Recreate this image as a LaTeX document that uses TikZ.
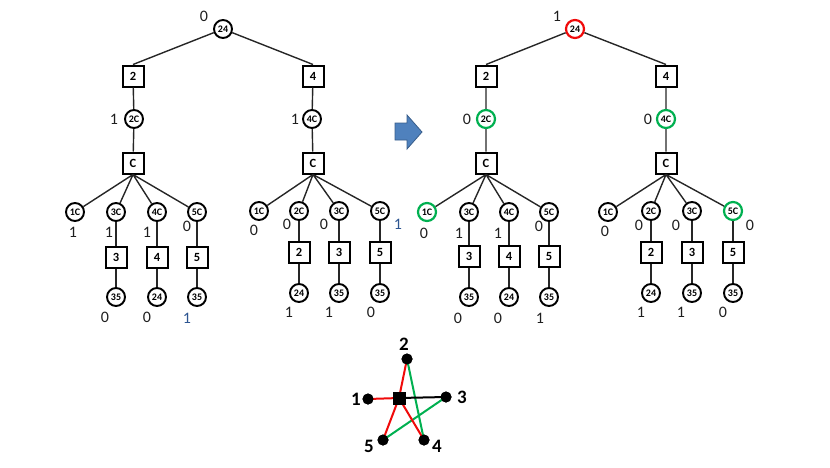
\documentclass[tikz,border=0pt]{standalone}
\usepackage{fontspec}
\setmainfont{Carlito}
\definecolor{gr}{RGB}{0,176,80}
\definecolor{rd}{RGB}{240,10,10}
\definecolor{bl}{RGB}{45,85,145}
\definecolor{txt}{RGB}{30,30,30}
\definecolor{arrf}{RGB}{79,129,189}
\definecolor{arrd}{RGB}{56,93,138}
\begin{document}
\begin{tikzpicture}[x=1pt,y=-1pt,
  cn/.style={circle,draw=black,line width=1.9pt,minimum size=18pt,inner sep=0pt,font=\bfseries\fontsize{10}{10}\selectfont},
  gc/.style={cn,draw=gr,line width=2.2pt},
  rc/.style={cn,draw=rd,line width=2.2pt},
  sq/.style={rectangle,draw=black,line width=2pt,minimum size=21pt,inner sep=0pt,font=\bfseries\fontsize{12.5}{13}\selectfont},
  lb/.style={inner sep=0pt,text=txt,font=\fontsize{16}{17}\selectfont},
  bb/.style={lb,text=bl},
  ed/.style={draw=black!85,line width=1.4pt},
  dot/.style={circle,fill=black,minimum size=11pt,inner sep=0pt},
  sl/.style={inner sep=0pt,font=\bfseries\fontsize{19}{20}\selectfont},
  se/.style={line width=2pt}]
\useasboundingbox (0,0) rectangle (830,467);

% ---------------- left tree ----------------
\node[cn] (r) at (223,29) {24};
\node[lb] (rl) at (204,16) {0};
\node[sq] (a2) at (133,76) {2};
\node[sq] (a4) at (313,76) {4};
\node[cn] (a2c) at (134,119) {2C};
\node[lb] at (114,119) {1};
\node[cn] (a4c) at (312,119) {4C};
\node[lb] at (295,119) {1};
\node[sq] (aC) at (133,163) {C};
\node[sq] (bC) at (313,163) {C};
\draw[ed] (r) -- (a2.north) (r) -- (a4.north) (a2) -- (a2c) -- (aC) (a4) -- (a4c) -- (bC);

\node[cn] (p1) at (75,212) {1C};
\node[cn] (p3) at (116,212) {3C};
\node[cn] (p4) at (157,212) {4C};
\node[cn] (p5) at (197,212) {5C};
\node[sq] (ps3) at (116,257) {3};
\node[sq] (ps4) at (157,257) {4};
\node[sq] (ps5) at (197,257) {5};
\node[cn] (pb3) at (116,297) {35};
\node[cn] (pb4) at (157,297) {24};
\node[cn] (pb5) at (197,297) {35};
\draw[ed] (aC.south) -- (p1) (aC.south) -- (p3) (aC.south) -- (p4) (aC.south) -- (p5);
\draw[ed] (p3) -- (ps3) -- (pb3) (p4) -- (ps4) -- (pb4) (p5) -- (ps5) -- (pb5);
\node[lb] at (73,232) {1};
\node[lb] at (109,232) {1};
\node[lb] at (147,232) {1};
\node[lb] at (187,226) {0};
\node[lb] at (105,317) {0};
\node[lb] at (147,317) {0};
\node[bb] at (187,318) {1};

\node[cn] (q1) at (259,211) {1C};
\node[cn] (q2) at (299,211) {2C};
\node[cn] (q3) at (339,211) {3C};
\node[cn] (q5) at (380,211) {5C};
\node[sq] (qs2) at (299,252) {2};
\node[sq] (qs3) at (339,252) {3};
\node[sq] (qs5) at (380,252) {5};
\node[cn] (qb2) at (299,293) {24};
\node[cn] (qb3) at (339,293) {35};
\node[cn] (qb5) at (380,293) {35};
\draw[ed] (bC.south) -- (q1) (bC.south) -- (q2) (bC.south) -- (q3) (bC.south) -- (q5);
\draw[ed] (q2) -- (qs2) -- (qb2) (q3) -- (qs3) -- (qb3) (q5) -- (qs5) -- (qb5);
\node[lb] at (254,230) {0};
\node[lb] at (287,224) {0};
\node[lb] at (324,224) {0};
\node[bb] at (398,224) {1};
\node[lb] at (289,312) {1};
\node[lb] at (329,312) {1};
\node[lb] at (371,312) {0};

% ---------------- arrow ----------------
\fill[arrf,draw=arrd,line width=0.8pt] (395,123) -- (407,123) -- (407,115) -- (422,132) -- (407,149) -- (407,140) -- (395,140) -- cycle;

% ---------------- right tree ----------------
\node[rc] (R) at (575,29) {24};
\node[lb] at (557,16) {1};
\node[sq] (A2) at (486,76) {2};
\node[sq] (A4) at (666,76) {4};
\node[gc] (A2c) at (486,119) {2C};
\node[lb] at (467,119) {0};
\node[gc] (A4c) at (666,119) {4C};
\node[lb] at (648,119) {0};
\node[sq] (AC) at (486,163) {C};
\node[sq] (BC) at (666,163) {C};
\draw[ed] (R) -- (A2.north) (R) -- (A4.north) (A2) -- (A2c) -- (AC) (A4) -- (A4c) -- (BC);

\node[gc] (P1) at (427,212) {1C};
\node[cn] (P3) at (469,212) {3C};
\node[cn] (P4) at (509,212) {4C};
\node[cn] (P5) at (549,212) {5C};
\node[sq] (PS3) at (469,256) {3};
\node[sq] (PS4) at (509,256) {4};
\node[sq] (PS5) at (549,256) {5};
\node[cn] (PB3) at (469,297) {35};
\node[cn] (PB4) at (509,297) {24};
\node[cn] (PB5) at (549,297) {35};
\draw[ed] (AC.south) -- (P1) (AC.south) -- (P3) (AC.south) -- (P4) (AC.south) -- (P5);
\draw[ed] (P3) -- (PS3) -- (PB3) (P4) -- (PS4) -- (PB4) (P5) -- (PS5) -- (PB5);
\node[lb] at (424,233) {0};
\node[lb] at (459,233) {1};
\node[lb] at (498,233) {1};
\node[lb] at (539,226) {0};
\node[lb] at (458,318) {0};
\node[lb] at (498,318) {0};
\node[lb] at (540,318) {1};

\node[cn] (Q1) at (608,212) {1C};
\node[cn] (Q2) at (651,211) {2C};
\node[cn] (Q3) at (692,211) {3C};
\node[gc] (Q5) at (733,211) {5C};
\node[sq] (QS2) at (651,252) {2};
\node[sq] (QS3) at (692,252) {3};
\node[sq] (QS5) at (733,252) {5};
\node[cn] (QB2) at (651,293) {24};
\node[cn] (QB3) at (692,293) {35};
\node[cn] (QB5) at (733,293) {35};
\draw[ed] (BC.south) -- (Q1) (BC.south) -- (Q2) (BC.south) -- (Q3) (BC.south) -- (Q5);
\draw[ed] (Q2) -- (QS2) -- (QB2) (Q3) -- (QS3) -- (QB3) (Q5) -- (QS5) -- (QB5);
\node[lb] at (605,231) {0};
\node[lb] at (639,225) {0};
\node[lb] at (676,225) {0};
\node[lb] at (750,225) {0};
\node[lb] at (641,312) {1};
\node[lb] at (681,312) {1};
\node[lb] at (723,312) {0};

% ---------------- star ----------------
\node[rectangle,fill=black,minimum size=13pt,inner sep=0pt] (s0) at (399,398) {};
\node[dot] (s1) at (368,399) {};
\node[dot] (s2) at (407,359) {};
\node[dot] (s3) at (446,397) {};
\node[dot] (s4) at (424,440) {};
\node[dot] (s5) at (383,440) {};
\node[sl] at (404,344) {2};
\node[sl] at (356,399) {1};
\node[sl] at (462,397) {3};
\node[sl] at (437,446) {4};
\node[sl] at (369,446) {5};
\draw[se,gr] (s2.center) -- (s4.center) (s3.center) -- (s5.center);
\draw[se,rd] (s0.center) -- (s2.center) (s0.center) -- (s1.center) (s0.center) -- (s5.center) (s0.center) -- (s4.center);
\draw[se,black] (s0.center) -- (s3.center);
\node[rectangle,fill=black,minimum size=13pt,inner sep=0pt] at (s0) {};
\node[dot] at (s1) {};
\node[dot] at (s2) {};
\node[dot] at (s3) {};
\node[dot] at (s4) {};
\node[dot] at (s5) {};
\end{tikzpicture}
\end{document}
